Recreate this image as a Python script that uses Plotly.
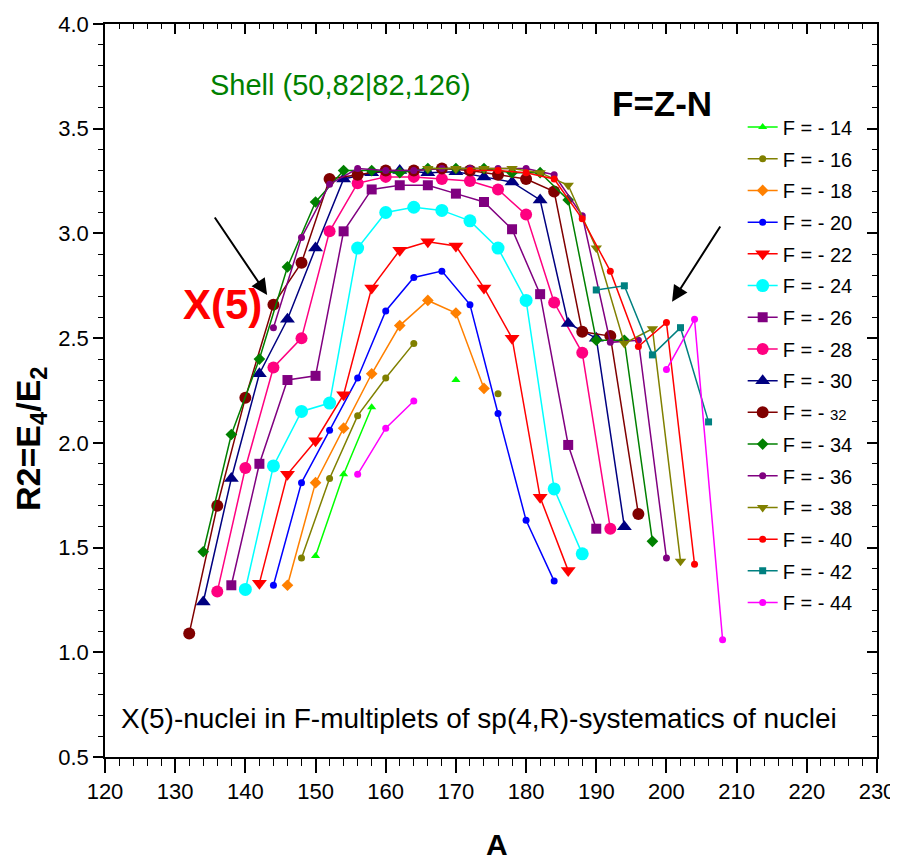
import plotly.graph_objects as go

# ---- data: A (mass number) and R2 = E4/E2 per F-multiplet ----
A_14 = [150, 154, 158, 164, 170]
R_14 = [1.46, 1.85, 2.17, None, 2.30]
A_16 = [148, 152, 156, 160, 164, 170, 176]
R_16 = [1.45, 1.83, 2.13, 2.31, 2.475, None, 2.235]
A_18 = [146, 150, 154, 158, 162, 166, 170, 174]
R_18 = [1.32, 1.81, 2.07, 2.33, 2.56, 2.68, 2.62, 2.26]
A_20 = [144, 148, 152, 156, 160, 164, 168, 172, 176, 180, 184]
R_20 = [1.32, 1.81, 2.06, 2.31, 2.63, 2.79, 2.82, 2.66, 2.14, 1.63, 1.34]
A_22 = [142, 146, 150, 154, 158, 162, 166, 170, 174, 178, 182, 186]
R_22 = [1.33, 1.85, 2.01, 2.23, 2.74, 2.92, 2.96, 2.94, 2.74, 2.50, 1.74, 1.39]
A_24 = [140, 144, 148, 152, 156, 160, 164, 168, 172, 176, 180, 184, 188]
R_24 = [1.30, 1.89, 2.15, 2.19, 2.93, 3.10, 3.125, 3.11, 3.06, 2.93, 2.68, 1.78, 1.47]
A_26 = [138, 142, 146, 150, 154, 158, 162, 166, 170, 174, 178, 182, 186, 190]
R_26 = [1.32, 1.90, 2.30, 2.32, 3.01, 3.21, 3.23, 3.23, 3.19, 3.15, 3.02, 2.71, 1.99, 1.59]
A_28 = [136, 140, 144, 148, 152, 156, 160, 164, 168, 172, 176, 180, 184, 188, 192]
R_28 = [1.29, 1.88, 2.36, 2.50, 3.01, 3.24, 3.27, 3.27, 3.26, 3.25, 3.21, 3.09, 2.67, 2.43, 1.59]
A_30 = [134, 138, 142, 146, 150, 154, 158, 162, 166, 170, 174, 178, 182, 186, 190, 194]
R_30 = [1.24, 1.83, 2.33, 2.59, 2.93, 3.26, 3.29, 3.30, 3.29, 3.295, 3.27, 3.245, 3.16, 2.57, 2.50, 1.60]
A_32 = [132, 136, 140, 144, 148, 152, 156, 160, 164, 168, 172, 176, 180, 184, 188, 192, 196]
R_32 = [1.09, 1.70, 2.215, 2.66, 2.86, 3.26, 3.28, 3.30, 3.30, 3.31, 3.30, 3.28, 3.26, 3.20, 2.53, 2.51, 1.66]
A_34 = [134, 138, 142, 146, 150, 154, 158, 162, 166, 170, 174, 178, 182, 186, 190, 194, 198]
R_34 = [1.48, 2.04, 2.40, 2.84, 3.15, 3.30, 3.30, 3.29, 3.31, 3.31, 3.31, 3.29, 3.29, 3.16, 2.49, 2.49, 1.53]
A_36 = [144, 148, 152, 156, 160, 164, 168, 172, 176, 180, 184, 188, 192, 196, 200]
R_36 = [2.55, 2.98, 3.235, 3.31, 3.30, 3.30, 3.31, 3.31, 3.31, 3.31, 3.28, 3.085, 2.48, 2.49, 1.45]
A_38 = [166, 170, 174, 178, 182, 186, 190, 194, 198, 202]
R_38 = [3.31, 3.31, 3.31, 3.31, 3.29, 3.23, 2.93, 2.475, 2.545, 1.435]
A_40 = [172, 176, 180, 184, 188, 192, 196, 200, 204]
R_40 = [3.30, 3.30, 3.29, 3.26, 3.07, 2.82, 2.46, 2.575, 1.42]
A_42 = [190, 194, 198, 202, 206]
R_42 = [2.73, 2.75, 2.42, 2.55, 2.10]
A_44 = [156, 160, 164, 180, 200, 204, 208]
R_44 = [1.85, 2.07, 2.20, None, 2.35, 2.59, 1.06]

names = ["F = - 14", "F = - 16", "F = - 18", "F = - 20", "F = - 22", "F = - 24",
         "F = - 26", "F = - 28", "F = - 30", "F = - <span style='font-size:15px'>32</span>",
         "F = - 34", "F = - 36", "F = - 38", "F = - 40", "F = - 42", "F = - 44"]
A_all = [A_14, A_16, A_18, A_20, A_22, A_24, A_26, A_28, A_30, A_32, A_34, A_36, A_38, A_40, A_42, A_44]
R_all = [R_14, R_16, R_18, R_20, R_22, R_24, R_26, R_28, R_30, R_32, R_34, R_36, R_38, R_40, R_42, R_44]

x_ticks = list(range(120, 231, 10))
y_ticks = [0.5, 1.0, 1.5, 2.0, 2.5, 3.0, 3.5, 4.0]

# ---- styles ----
colors = ["#00FF00", "#808000", "#FF8000", "#0000FF", "#FF0000", "#00FFFF",
          "#800080", "#FF0080", "#000080", "#800000", "#008000", "#800080",
          "#808000", "#FF0000", "#008080", "#FF00FF"]
symbols = ["triangle-up", "circle", "diamond", "circle", "triangle-down", "circle",
           "square", "circle", "triangle-up", "circle", "diamond", "circle",
           "triangle-down", "circle", "square", "circle"]
sizes = [8, 7, 9, 7, 13, 13, 10, 12, 13, 12, 9, 7, 10, 7, 7, 7]

FONT = "Liberation Sans, Arial, sans-serif"

fig = go.Figure()
for i, (nm, a, r, c, s, z) in enumerate(zip(names, A_all, R_all, colors, symbols, sizes)):
    fig.add_trace(go.Scatter(
        x=a, y=r, name=nm, mode="lines+markers", legendgroup="g%d" % i,
        line=dict(color=c, width=1.5),
        marker=dict(color=c, symbol=s, size=z, line=dict(width=0)),
        connectgaps=False,
    ))

# invisible trace for the mirrored (inside-tick) top/right axes
fig.add_trace(go.Scatter(x=[None], y=[None], xaxis="x2", yaxis="y2",
                         showlegend=False, hoverinfo="skip"))

axis_common = dict(showgrid=False, zeroline=False, showline=True,
                   linecolor="black", linewidth=1.5, automargin=False)

# page has an 8px body margin; margins below compensate for it
fig.update_layout(
    width=898, height=865,
    margin=dict(l=97, r=29, t=16, b=116, autoexpand=False),
    paper_bgcolor="white", plot_bgcolor="white",
    showlegend=True,
    legend=dict(x=0.826, y=0.886, xanchor="left", yanchor="top",
                bgcolor="rgba(0,0,0,0)", font=dict(family=FONT, size=20, color="black"),
                itemwidth=30, tracegroupgap=2.7),
    xaxis=dict(range=[120, 230], tickvals=x_ticks, ticks="outside", ticklen=14, tickwidth=1.5,
               tickcolor="black", minor=dict(dtick=2, ticks="outside", ticklen=7, tickcolor="black", tickwidth=1.2),
               tickfont=dict(family=FONT, size=22, color="black"),
               **axis_common),
    yaxis=dict(range=[0.5, 4.0], tickvals=y_ticks, tickformat=".1f", ticks="outside", ticklen=10, tickwidth=1.5,
               tickcolor="black", minor=dict(dtick=0.1, ticks="outside", ticklen=5, tickcolor="black", tickwidth=1.2),
               tickfont=dict(family=FONT, size=22, color="black"),
               **axis_common),
    xaxis2=dict(range=[120, 230], overlaying="x", side="top", anchor="y", tickvals=x_ticks,
                showticklabels=False, ticks="inside", ticklen=10, tickwidth=1.5, tickcolor="black",
                minor=dict(dtick=2, ticks="inside", ticklen=5, tickcolor="black", tickwidth=1.2),
                **axis_common),
    yaxis2=dict(range=[0.5, 4.0], overlaying="y", side="right", anchor="x", tickvals=y_ticks,
                showticklabels=False, ticks="inside", ticklen=10, tickwidth=1.5, tickcolor="black",
                minor=dict(dtick=0.1, ticks="inside", ticklen=5, tickcolor="black", tickwidth=1.2),
                **axis_common),
)

# axis titles (paper coords relative to plot area: 772 x 733 px)
fig.add_annotation(x=(497 - 105) / 772, y=-(844 - 757) / 733, xref="paper", yref="paper", text="<b>A</b>",
                   xanchor="center", yanchor="middle",
                   showarrow=False, font=dict(family=FONT, size=30, color="black"))
fig.add_annotation(x=(30 - 105) / 772, y=1 - (439 - 24) / 733, xref="paper", yref="paper",
                   text="<b>R2=E<sub>4</sub>/E<sub>2</sub></b>", textangle=-90,
                   xanchor="center", yanchor="middle",
                   showarrow=False, font=dict(family=FONT, size=34, color="black"))

fig.add_annotation(x=153.5, y=3.71, xref="x", yref="y", text="Shell (50,82|82,126)", showarrow=False,
                   font=dict(family=FONT, size=29, color="#008000"))
fig.add_annotation(x=199.4, y=3.62, xref="x", yref="y", text="<b>F=Z-N</b>", showarrow=False,
                   font=dict(family=FONT, size=35, color="black"))
fig.add_annotation(x=136.7, y=2.66, xref="x", yref="y", text="<b>X(5)</b>", showarrow=False,
                   font=dict(family=FONT, size=42, color="#FF0000"))
fig.add_annotation(x=173.3, y=0.685, xref="x", yref="y",
                   text="X(5)-nuclei in F-multiplets of sp(4,R)-systematics of nuclei", showarrow=False,
                   font=dict(family=FONT, size=28, color="black"))
# arrows
fig.add_annotation(x=143.1, y=2.706, ax=135.5, ay=3.083, xref="x", yref="y", axref="x", ayref="y",
                   text="", showarrow=True, arrowhead=2, arrowsize=1.6, arrowwidth=2, arrowcolor="black")
fig.add_annotation(x=200.8, y=2.674, ax=207.8, ay=3.04, xref="x", yref="y", axref="x", ayref="y",
                   text="", showarrow=True, arrowhead=2, arrowsize=1.6, arrowwidth=2, arrowcolor="black")

fig.write_html("out.html")
